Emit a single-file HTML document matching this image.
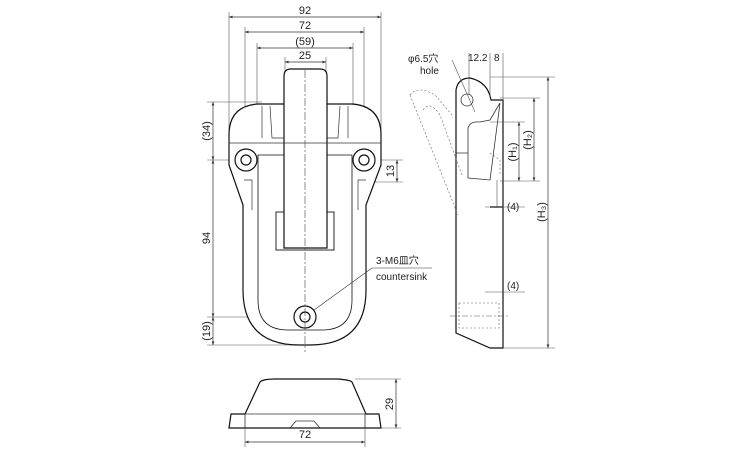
<!DOCTYPE html>
<html><head><style>body{margin:0;background:#fff}svg{display:block}text{font-family:"Liberation Sans","Noto Sans CJK JP",sans-serif;fill:#222}</style></head>
<body>
<svg width="750" height="450" viewBox="0 0 750 450" xmlns="http://www.w3.org/2000/svg">
<defs><marker id="a" markerWidth="6" markerHeight="6" refX="5" refY="3" orient="auto-start-reverse"><path d="M0,1 L5,3 L0,5Z" fill="#333"/></marker></defs>
<g stroke="#555" stroke-width="0.6" fill="none">
<line x1="229" y1="12" x2="229" y2="135"/><line x1="381" y1="12" x2="381" y2="135"/>
<line x1="245" y1="27" x2="245" y2="150"/><line x1="364" y1="27" x2="364" y2="150"/>
<line x1="257" y1="43" x2="257" y2="110"/><line x1="353" y1="43" x2="353" y2="110"/>
<line x1="285" y1="57" x2="285" y2="72"/><line x1="326" y1="57" x2="326" y2="72"/>
<line x1="207" y1="102" x2="262" y2="102"/><line x1="207" y1="160" x2="236" y2="160"/>
<line x1="207" y1="317" x2="295" y2="317"/><line x1="207" y1="345" x2="305" y2="345"/>
<line x1="374" y1="160" x2="403" y2="160"/><line x1="374" y1="182" x2="403" y2="182"/>
</g>
<g stroke="#333" stroke-width="0.7" marker-start="url(#a)" marker-end="url(#a)">
<line x1="229" y1="17" x2="381" y2="17"/><line x1="245" y1="32" x2="364" y2="32"/>
<line x1="257" y1="48" x2="353" y2="48"/><line x1="285" y1="62" x2="326" y2="62"/>
<line x1="213" y1="102" x2="213" y2="160"/><line x1="213" y1="160" x2="213" y2="317"/>
<line x1="213" y1="317" x2="213" y2="345"/><line x1="397" y1="160" x2="397" y2="182"/>
<line x1="548" y1="77" x2="548" y2="348"/><line x1="534" y1="98" x2="534" y2="181"/>
<line x1="519" y1="122" x2="519" y2="181"/>
<line x1="245" y1="442" x2="365" y2="442"/><line x1="396" y1="379" x2="396" y2="428"/>
</g>
<g font-size="11" text-anchor="middle">
<text x="305" y="14">92</text><text x="305" y="29">72</text><text x="305" y="45">(59)</text><text x="305" y="59">25</text>
<text x="305" y="438">72</text>
</g>
<g font-size="11" text-anchor="middle">
<text transform="translate(210,131) rotate(-90)">(34)</text>
<text transform="translate(210,238) rotate(-90)">94</text>
<text transform="translate(210,331) rotate(-90)">(19)</text>
<text transform="translate(394,171) rotate(-90)">13</text>
<text transform="translate(393,404) rotate(-90)">29</text>
<text transform="translate(545,212) rotate(-90)">(H₃)</text>
<text transform="translate(531,140) rotate(-90)">(H₂)</text>
<text transform="translate(516,152) rotate(-90)">(H₁)</text>
</g>
<g stroke="#111" stroke-width="1.2" fill="#fff">
<path d="M258,104 L352,104 Q381,106 381,135 L381,165 L366,205 L366,290 Q366,345 310,345 L300,345 Q243,345 243,290 L243,205 L229,165 L229,135 Q229,106 258,104Z"/>
<path d="M258,155 L352,155 L352,300 Q352,330 322,330 L288,330 Q258,330 258,300Z" stroke-width="0.8" fill="none"/>
<rect x="276" y="212" width="58" height="38" fill="none" stroke-width="0.9"/>
<path d="M284,248 L284,76 Q284,69 291,69 L320,69 Q327,69 327,76 L327,248Z"/>
<circle cx="246" cy="160" r="11"/><circle cx="246" cy="160" r="5"/>
<circle cx="364" cy="160" r="11"/><circle cx="364" cy="160" r="5"/>
<circle cx="305" cy="317" r="11"/><circle cx="305" cy="317" r="5"/>
</g>
<g stroke="#333" stroke-width="0.7" fill="none">
<path d="M262,106 L262,138 M270,106 L272,138 L284,138 M348,106 L348,138 M340,106 L338,138 L327,138"/>
<line x1="229" y1="143" x2="381" y2="143"/>
<path d="M244,180 L252,180 L252,210 M366,180 L358,180 L358,210"/>
</g>
<line x1="305" y1="70" x2="305" y2="352" stroke="#444" stroke-width="0.6" stroke-dasharray="8,2,2,2"/>
<line x1="314" y1="310" x2="372" y2="268" stroke="#333" stroke-width="0.6"/>
<line x1="372" y1="268" x2="432" y2="268" stroke="#333" stroke-width="0.6"/>
<text x="376" y="264" font-size="10">3-M6皿穴</text>
<text x="376" y="280" font-size="10">countersink</text>
<g stroke="#111" stroke-width="1.2" fill="#fff">
<path d="M456,333 L456,90 Q458,78 470,78 Q488,82 491,100 L503,100 L503,348 L490,348Z"/>
</g>
<g stroke="#333" stroke-width="0.8" fill="none">
<circle cx="467" cy="100" r="6"/>
<path d="M456,153 L468,153 L468,128 Q470,121 480,122 L490,120 L500,103 M468,153 L468,178 L490,180 L500,103"/>
<line x1="490" y1="207" x2="503" y2="207" stroke-width="1.5"/>
<line x1="497" y1="180" x2="497" y2="207" stroke-width="0.5"/>
</g>
<g stroke="#666" stroke-width="0.6" fill="none" stroke-dasharray="2,2">
<path d="M410,95 Q418,85 435,95 L452,115 M410,95 L440,170 L458,215 M423,110 Q430,100 440,115 L462,175"/>
<rect x="459" y="303" width="40" height="25"/>
<path d="M490,153 L500,160 L500,175"/>
</g>
<g stroke="#555" stroke-width="0.6">
<line x1="469" y1="53" x2="469" y2="95"/><line x1="490" y1="53" x2="490" y2="98"/><line x1="503" y1="53" x2="503" y2="100"/>
<line x1="490" y1="77" x2="555" y2="77"/><line x1="500" y1="98" x2="540" y2="98"/><line x1="490" y1="122" x2="525" y2="122"/>
<line x1="500" y1="181" x2="540" y2="181"/><line x1="503" y1="348" x2="555" y2="348"/>
<line x1="485" y1="207" x2="525" y2="207"/><line x1="485" y1="292" x2="525" y2="292"/>
<line x1="450" y1="316" x2="510" y2="316" stroke-dasharray="6,2,2,2"/>
<line x1="452" y1="60" x2="475" y2="112"/>
</g>
<text x="468" y="61" font-size="10">12.2</text><text x="494" y="61" font-size="10">8</text>
<text x="408" y="62" font-size="10">φ6.5穴</text><text x="420" y="74" font-size="10">hole</text>
<text x="507" y="210" font-size="10">(4)</text><text x="507" y="289" font-size="10">(4)</text>
<g stroke="#111" stroke-width="1.2" fill="#fff">
<path d="M229,428 L231,414 L245,414 L260,382 Q263,379 275,379 L338,379 Q350,380 352,382 L366,414 L379,414 L381,428Z"/>
</g>
<g stroke="#333" stroke-width="0.8" fill="none">
<path d="M245,414 L365,414 M245,414 L245,428 M365,414 L365,428 M290,428 L296,421 L314,421 L320,428"/>
</g>
<g stroke="#555" stroke-width="0.6"><line x1="245" y1="428" x2="245" y2="447"/><line x1="365" y1="428" x2="365" y2="447"/>
<line x1="355" y1="379" x2="401" y2="379"/><line x1="381" y1="428" x2="401" y2="428"/></g>
</svg>
</body></html>
